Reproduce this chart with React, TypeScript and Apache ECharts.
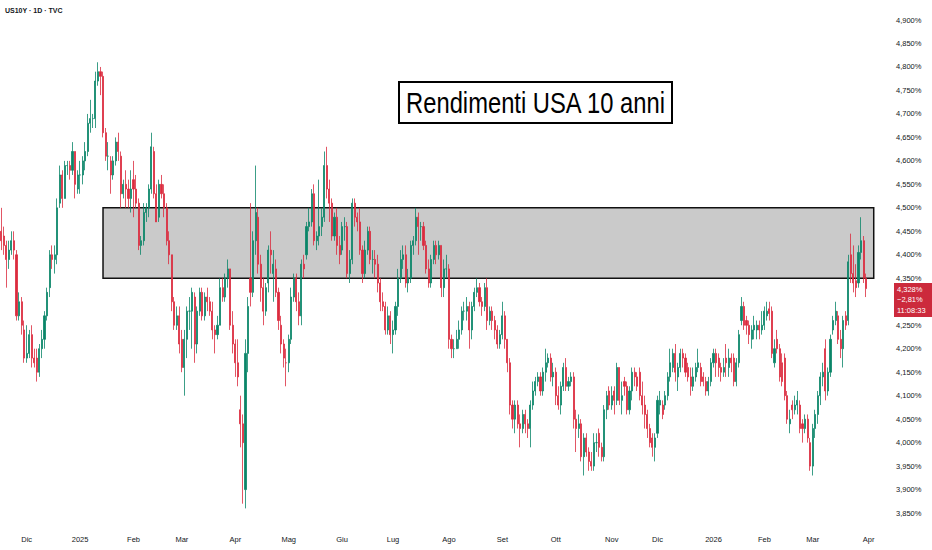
import React, { useEffect, useRef } from 'react';
import * as echarts from 'echarts';

// Each bar: [open, close, low, high]  (US10Y, %)
const nov2024 = [
  [4.45, 4.43, 4.41, 4.50], [4.44, 4.42, 4.40, 4.46], [4.42, 4.39, 4.33, 4.43], [4.39, 4.41, 4.37, 4.43],
  [4.41, 4.43, 4.40, 4.45], [4.43, 4.41, 4.39, 4.45], [4.40, 4.27, 4.26, 4.41], [4.27, 4.30, 4.26, 4.32],
  [4.30, 4.25, 4.23, 4.31], [4.24, 4.18, 4.17, 4.26],
];
const dec2024 = [
  [4.18, 4.19, 4.17, 4.25], [4.19, 4.23, 4.18, 4.24], [4.23, 4.18, 4.16, 4.25], [4.18, 4.17, 4.16, 4.20],
  [4.18, 4.15, 4.13, 4.20], [4.15, 4.20, 4.14, 4.21], [4.20, 4.22, 4.18, 4.24], [4.22, 4.27, 4.20, 4.28],
  [4.27, 4.32, 4.26, 4.33], [4.33, 4.40, 4.31, 4.41], [4.40, 4.39, 4.37, 4.42], [4.39, 4.40, 4.36, 4.42],
  [4.40, 4.50, 4.38, 4.52], [4.51, 4.57, 4.50, 4.59], [4.57, 4.52, 4.50, 4.58], [4.52, 4.59, 4.52, 4.60],
  [4.59, 4.59, 4.57, 4.60], [4.59, 4.58, 4.56, 4.60], [4.58, 4.62, 4.57, 4.64], [4.62, 4.55, 4.52, 4.62],
  [4.54, 4.57, 4.53, 4.58],
];
const jan2025 = [
  [4.57, 4.57, 4.53, 4.60], [4.57, 4.60, 4.55, 4.61], [4.60, 4.62, 4.58, 4.64], [4.62, 4.68, 4.61, 4.70],
  [4.68, 4.69, 4.66, 4.73], [4.69, 4.69, 4.67, 4.70], [4.69, 4.77, 4.67, 4.79], [4.77, 4.79, 4.76, 4.81],
  [4.79, 4.78, 4.74, 4.80], [4.78, 4.66, 4.65, 4.79], [4.66, 4.61, 4.60, 4.67], [4.61, 4.61, 4.58, 4.64],
  [4.60, 4.57, 4.53, 4.61], [4.57, 4.60, 4.56, 4.61], [4.60, 4.64, 4.59, 4.65], [4.64, 4.62, 4.60, 4.66],
  [4.61, 4.53, 4.50, 4.62], [4.53, 4.55, 4.52, 4.56], [4.55, 4.54, 4.50, 4.58], [4.54, 4.52, 4.50, 4.56],
  [4.52, 4.54, 4.49, 4.58],
];
const feb2025 = [
  [4.56, 4.54, 4.48, 4.60], [4.54, 4.51, 4.50, 4.57], [4.51, 4.42, 4.41, 4.52], [4.42, 4.43, 4.40, 4.44],
  [4.43, 4.49, 4.42, 4.51], [4.49, 4.50, 4.47, 4.51], [4.50, 4.54, 4.48, 4.55], [4.54, 4.63, 4.53, 4.66],
  [4.62, 4.53, 4.52, 4.63], [4.53, 4.47, 4.47, 4.55], [4.48, 4.55, 4.47, 4.56], [4.55, 4.53, 4.52, 4.57],
  [4.53, 4.50, 4.48, 4.55], [4.50, 4.43, 4.42, 4.51], [4.43, 4.40, 4.38, 4.45], [4.40, 4.30, 4.28, 4.40],
  [4.30, 4.25, 4.24, 4.31], [4.25, 4.27, 4.24, 4.29], [4.27, 4.21, 4.19, 4.29],
];
const mar2025 = [
  [4.22, 4.16, 4.15, 4.24], [4.16, 4.22, 4.10, 4.24], [4.22, 4.28, 4.18, 4.29], [4.28, 4.28, 4.24, 4.31],
  [4.28, 4.32, 4.20, 4.33], [4.31, 4.21, 4.17, 4.32], [4.21, 4.28, 4.19, 4.29], [4.28, 4.32, 4.27, 4.33],
  [4.32, 4.27, 4.26, 4.33], [4.27, 4.31, 4.26, 4.32], [4.31, 4.30, 4.28, 4.33], [4.30, 4.28, 4.27, 4.31],
  [4.28, 4.24, 4.22, 4.30], [4.24, 4.23, 4.19, 4.25], [4.23, 4.25, 4.22, 4.27], [4.25, 4.33, 4.25, 4.35],
  [4.33, 4.31, 4.30, 4.35], [4.31, 4.35, 4.30, 4.36], [4.35, 4.37, 4.33, 4.39], [4.37, 4.25, 4.24, 4.37],
  [4.25, 4.21, 4.19, 4.28],
];
const apr2025 = [
  [4.21, 4.17, 4.14, 4.22], [4.17, 4.14, 4.12, 4.22], [4.07, 4.04, 3.99, 4.10], [4.04, 4.00, 3.87, 4.06],
  [3.90, 4.19, 3.86, 4.22], [4.19, 4.29, 4.15, 4.31], [4.35, 4.32, 4.29, 4.51], [4.32, 4.43, 4.31, 4.45],
  [4.43, 4.49, 4.40, 4.59], [4.48, 4.38, 4.36, 4.50], [4.38, 4.33, 4.30, 4.40], [4.33, 4.28, 4.25, 4.35],
  [4.28, 4.33, 4.27, 4.34], [4.34, 4.41, 4.32, 4.42], [4.41, 4.40, 4.36, 4.45], [4.36, 4.38, 4.30, 4.41],
  [4.37, 4.32, 4.31, 4.39], [4.32, 4.26, 4.24, 4.33], [4.25, 4.21, 4.19, 4.27], [4.21, 4.18, 4.16, 4.22],
  [4.17, 4.17, 4.12, 4.20],
];
const may2025 = [
  [4.17, 4.22, 4.15, 4.23], [4.22, 4.31, 4.21, 4.33], [4.31, 4.35, 4.30, 4.36], [4.35, 4.30, 4.28, 4.36],
  [4.30, 4.27, 4.25, 4.32], [4.27, 4.38, 4.25, 4.39], [4.38, 4.37, 4.35, 4.40], [4.40, 4.46, 4.39, 4.47],
  [4.46, 4.47, 4.45, 4.50], [4.47, 4.53, 4.46, 4.54], [4.53, 4.43, 4.42, 4.55], [4.43, 4.44, 4.41, 4.45],
  [4.44, 4.46, 4.42, 4.56], [4.46, 4.48, 4.44, 4.50], [4.48, 4.59, 4.47, 4.62], [4.59, 4.54, 4.52, 4.63],
  [4.54, 4.51, 4.47, 4.56], [4.51, 4.44, 4.43, 4.52], [4.44, 4.48, 4.43, 4.49], [4.48, 4.42, 4.40, 4.50],
  [4.42, 4.40, 4.38, 4.44],
];
const jun2025 = [
  [4.41, 4.46, 4.40, 4.47], [4.46, 4.46, 4.43, 4.48], [4.46, 4.36, 4.35, 4.47], [4.36, 4.39, 4.34, 4.41],
  [4.39, 4.51, 4.38, 4.52], [4.51, 4.48, 4.46, 4.52], [4.48, 4.47, 4.45, 4.49], [4.47, 4.41, 4.40, 4.50],
  [4.41, 4.36, 4.34, 4.42], [4.36, 4.41, 4.35, 4.43], [4.41, 4.45, 4.40, 4.46], [4.45, 4.39, 4.38, 4.46],
  [4.39, 4.39, 4.36, 4.41], [4.39, 4.38, 4.35, 4.41], [4.38, 4.34, 4.32, 4.40], [4.34, 4.30, 4.28, 4.35],
  [4.30, 4.29, 4.28, 4.32], [4.29, 4.24, 4.23, 4.30], [4.24, 4.27, 4.23, 4.29], [4.27, 4.23, 4.21, 4.28],
];
const jul2025 = [
  [4.23, 4.24, 4.19, 4.26], [4.24, 4.29, 4.23, 4.30], [4.29, 4.35, 4.27, 4.37], [4.35, 4.39, 4.34, 4.41],
  [4.39, 4.40, 4.37, 4.42], [4.40, 4.34, 4.33, 4.42], [4.34, 4.35, 4.32, 4.37], [4.35, 4.42, 4.34, 4.43],
  [4.42, 4.43, 4.40, 4.44], [4.43, 4.48, 4.42, 4.50], [4.48, 4.46, 4.40, 4.49], [4.46, 4.46, 4.43, 4.47],
  [4.46, 4.42, 4.41, 4.47], [4.42, 4.37, 4.36, 4.43], [4.37, 4.34, 4.33, 4.39], [4.34, 4.39, 4.33, 4.40],
  [4.39, 4.42, 4.38, 4.43], [4.42, 4.40, 4.38, 4.43], [4.40, 4.42, 4.39, 4.43], [4.42, 4.33, 4.31, 4.42],
  [4.33, 4.37, 4.31, 4.39], [4.37, 4.37, 4.35, 4.40],
];
const aug2025 = [
  [4.37, 4.22, 4.20, 4.38], [4.22, 4.20, 4.18, 4.23], [4.20, 4.20, 4.18, 4.22], [4.20, 4.22, 4.20, 4.24],
  [4.22, 4.24, 4.20, 4.26], [4.24, 4.28, 4.23, 4.29], [4.28, 4.28, 4.26, 4.30], [4.28, 4.29, 4.26, 4.31],
  [4.29, 4.24, 4.20, 4.30], [4.24, 4.29, 4.22, 4.30], [4.29, 4.32, 4.28, 4.33], [4.32, 4.33, 4.31, 4.35],
  [4.33, 4.30, 4.29, 4.34], [4.30, 4.29, 4.27, 4.31], [4.29, 4.33, 4.28, 4.34], [4.33, 4.26, 4.24, 4.35],
  [4.26, 4.28, 4.25, 4.29], [4.28, 4.26, 4.24, 4.29], [4.26, 4.24, 4.22, 4.27], [4.24, 4.21, 4.20, 4.25],
  [4.21, 4.23, 4.20, 4.24],
];
const sep2025 = [
  [4.23, 4.27, 4.22, 4.30], [4.27, 4.22, 4.20, 4.28], [4.22, 4.17, 4.15, 4.22], [4.17, 4.08, 4.06, 4.18],
  [4.08, 4.05, 4.03, 4.09], [4.05, 4.08, 4.02, 4.09], [4.08, 4.04, 4.03, 4.09], [4.04, 4.03, 3.99, 4.06],
  [4.03, 4.06, 4.02, 4.07], [4.06, 4.04, 4.02, 4.07], [4.04, 4.03, 4.01, 4.05], [4.03, 4.08, 3.99, 4.09],
  [4.08, 4.11, 4.07, 4.13], [4.11, 4.13, 4.10, 4.14], [4.13, 4.14, 4.12, 4.15], [4.14, 4.11, 4.10, 4.15],
  [4.11, 4.15, 4.10, 4.16], [4.15, 4.17, 4.13, 4.20], [4.17, 4.18, 4.16, 4.19], [4.18, 4.14, 4.13, 4.19],
  [4.14, 4.15, 4.12, 4.17],
];
const oct2025 = [
  [4.15, 4.10, 4.08, 4.16], [4.10, 4.08, 4.07, 4.12], [4.08, 4.12, 4.06, 4.13], [4.12, 4.16, 4.11, 4.17],
  [4.16, 4.12, 4.11, 4.18], [4.12, 4.13, 4.11, 4.14], [4.13, 4.14, 4.12, 4.15], [4.14, 4.05, 4.03, 4.15],
  [4.05, 4.03, 3.98, 4.07], [4.03, 4.04, 4.01, 4.06], [4.04, 3.97, 3.96, 4.05], [3.97, 4.01, 3.93, 4.02],
  [4.01, 3.98, 3.97, 4.02], [3.98, 3.96, 3.94, 3.99], [3.96, 3.95, 3.94, 3.98], [3.95, 4.00, 3.94, 4.02],
  [4.00, 4.00, 3.98, 4.02], [4.02, 3.99, 3.97, 4.03], [3.99, 3.97, 3.96, 4.00], [3.97, 4.07, 3.96, 4.08],
  [4.07, 4.10, 4.05, 4.11], [4.11, 4.08, 4.07, 4.12],
];
const nov2025 = [
  [4.08, 4.10, 4.07, 4.12], [4.11, 4.09, 4.06, 4.12], [4.09, 4.16, 4.08, 4.17], [4.16, 4.09, 4.08, 4.16],
  [4.09, 4.10, 4.06, 4.13], [4.13, 4.12, 4.10, 4.14], [4.12, 4.07, 4.06, 4.13], [4.07, 4.11, 4.06, 4.12],
  [4.11, 4.15, 4.09, 4.16], [4.15, 4.14, 4.12, 4.16], [4.14, 4.12, 4.11, 4.15], [4.15, 4.10, 4.09, 4.16],
  [4.10, 4.08, 4.06, 4.13], [4.08, 4.06, 4.03, 4.10], [4.06, 4.03, 4.01, 4.07], [4.03, 4.00, 3.99, 4.04],
  [4.01, 3.99, 3.97, 4.02], [3.99, 4.01, 3.96, 4.02],
];
const dec2025 = [
  [4.02, 4.09, 4.01, 4.10], [4.08, 4.09, 4.06, 4.11], [4.08, 4.06, 4.05, 4.09], [4.08, 4.10, 4.07, 4.11],
  [4.10, 4.14, 4.09, 4.15], [4.14, 4.17, 4.13, 4.20], [4.16, 4.19, 4.15, 4.20], [4.19, 4.15, 4.13, 4.21],
  [4.14, 4.16, 4.11, 4.17], [4.16, 4.19, 4.15, 4.20], [4.19, 4.18, 4.16, 4.20], [4.18, 4.15, 4.14, 4.19],
  [4.16, 4.14, 4.13, 4.17], [4.14, 4.12, 4.10, 4.16], [4.12, 4.14, 4.11, 4.16], [4.14, 4.16, 4.13, 4.17],
  [4.16, 4.17, 4.15, 4.20], [4.16, 4.13, 4.12, 4.17], [4.14, 4.13, 4.12, 4.15], [4.13, 4.11, 4.10, 4.14],
  [4.11, 4.13, 4.10, 4.14], [4.13, 4.17, 4.12, 4.18],
];
const jan2026 = [
  [4.17, 4.19, 4.16, 4.20], [4.19, 4.17, 4.14, 4.20], [4.18, 4.16, 4.14, 4.19], [4.16, 4.15, 4.13, 4.17],
  [4.15, 4.16, 4.14, 4.18], [4.18, 4.17, 4.14, 4.21], [4.16, 4.18, 4.14, 4.20], [4.18, 4.17, 4.15, 4.19],
  [4.18, 4.13, 4.12, 4.19], [4.13, 4.17, 4.12, 4.18], [4.17, 4.23, 4.16, 4.24], [4.26, 4.29, 4.25, 4.31],
  [4.29, 4.25, 4.24, 4.30], [4.26, 4.25, 4.23, 4.27], [4.25, 4.23, 4.21, 4.26], [4.22, 4.24, 4.20, 4.25],
  [4.24, 4.25, 4.22, 4.27], [4.24, 4.25, 4.22, 4.26], [4.25, 4.24, 4.22, 4.26], [4.24, 4.25, 4.23, 4.28],
];
const feb2026 = [
  [4.25, 4.28, 4.24, 4.29], [4.27, 4.28, 4.26, 4.30], [4.285, 4.275, 4.26, 4.30], [4.28, 4.19, 4.18, 4.29],
  [4.17, 4.20, 4.16, 4.22], [4.22, 4.20, 4.19, 4.24], [4.20, 4.14, 4.13, 4.21], [4.17, 4.13, 4.12, 4.19],
  [4.18, 4.10, 4.09, 4.19], [4.10, 4.05, 4.04, 4.11], [4.04, 4.05, 4.02, 4.07], [4.08, 4.07, 4.05, 4.09],
  [4.07, 4.08, 4.06, 4.10], [4.08, 4.09, 4.06, 4.11], [4.08, 4.03, 4.02, 4.09], [4.04, 4.03, 4.00, 4.05],
  [4.03, 4.05, 4.02, 4.06], [4.05, 4.01, 4.00, 4.06], [4.00, 3.95, 3.94, 4.01],
];
const mar2026 = [
  [3.95, 4.03, 3.93, 4.04], [4.03, 4.06, 4.01, 4.07], [4.06, 4.10, 4.04, 4.11], [4.10, 4.14, 4.08, 4.15],
  [4.14, 4.15, 4.12, 4.17], [4.20, 4.11, 4.09, 4.22], [4.11, 4.15, 4.10, 4.16], [4.15, 4.22, 4.14, 4.23],
  [4.24, 4.26, 4.23, 4.27], [4.26, 4.28, 4.25, 4.30], [4.27, 4.22, 4.21, 4.28], [4.22, 4.20, 4.18, 4.24],
  [4.20, 4.26, 4.16, 4.27], [4.27, 4.25, 4.24, 4.28], [4.26, 4.385, 4.25, 4.40], [4.40, 4.36, 4.34, 4.445],
  [4.36, 4.34, 4.32, 4.42], [4.345, 4.33, 4.31, 4.38], [4.34, 4.405, 4.33, 4.42], [4.405, 4.43, 4.39, 4.48],
  [4.43, 4.35, 4.34, 4.44], [4.35, 4.328, 4.31, 4.36],
];
const apr2026: number[][] = [[], [], []]; // empty future slots on the time axis

const months = [
  { key: '2024-11', label: '', bars: nov2024 },
  { key: '2024-12', label: 'Dic', bars: dec2024 },
  { key: '2025-01', label: '2025', bars: jan2025 },
  { key: '2025-02', label: 'Feb', bars: feb2025 },
  { key: '2025-03', label: 'Mar', bars: mar2025 },
  { key: '2025-04', label: 'Apr', bars: apr2025 },
  { key: '2025-05', label: 'Mag', bars: may2025 },
  { key: '2025-06', label: 'Giu', bars: jun2025 },
  { key: '2025-07', label: 'Lug', bars: jul2025 },
  { key: '2025-08', label: 'Ago', bars: aug2025 },
  { key: '2025-09', label: 'Set', bars: sep2025 },
  { key: '2025-10', label: 'Ott', bars: oct2025 },
  { key: '2025-11', label: 'Nov', bars: nov2025 },
  { key: '2025-12', label: 'Dic', bars: dec2025 },
  { key: '2026-01', label: '2026', bars: jan2026 },
  { key: '2026-02', label: 'Feb', bars: feb2026 },
  { key: '2026-03', label: 'Mar', bars: mar2026 },
  { key: '2026-04', label: 'Apr', bars: apr2026 },
];

// 4,300% sits under the last-price badge in the reference, so it is not listed
const yTicks = [3.85, 3.9, 3.95, 4.0, 4.05, 4.1, 4.15, 4.2, 4.25, 4.35, 4.4, 4.45, 4.5, 4.55, 4.6, 4.65, 4.7, 4.75, 4.8, 4.85, 4.9];
const yMin = 3.8246;
const yMax = 4.9426;

const zone = { start: '2025-01-9', end: '2026-04-2', low: 4.35, high: 4.5 };

const titleText = 'Rendimenti USA 10 anni';
const symbolText = 'US10Y · 1D · TVC';
const lastPrice = ['4,328%', '−2,81%', '11:08:33'];

const UP = '#0a8568';
const DOWN = '#db2b3e';
const FONT = 'Liberation Sans, Arial, sans-serif';

export default function App() {
  const ref = useRef<HTMLDivElement>(null);

  useEffect(() => {
    if (!ref.current) return;
    const chart = echarts.init(ref.current, undefined, { renderer: 'svg' });

    const cats: string[] = [];
    const labelAt: Record<string, string> = {};
    const data: any[] = [];
    months.forEach((m) => {
      m.bars.forEach((b, i) => {
        const k = `${m.key}-${i}`;
        cats.push(k);
        if (i === 0 && m.label) labelAt[k] = m.label;
        data.push(b.length ? b : '-');
      });
    });

    chart.setOption({
      animation: false,
      backgroundColor: '#ffffff',
      grid: { left: 0, right: 57, top: 0, height: 525 },
      xAxis: {
        type: 'category',
        data: cats,
        boundaryGap: true,
        axisLine: { show: false },
        axisTick: { show: false },
        splitLine: { show: false },
        axisLabel: {
          interval: (i: number, v: string) => labelAt[v] !== undefined,
          formatter: (v: string) => labelAt[v] || '',
          fontSize: 7.5,
          fontFamily: FONT,
          color: '#131722',
          margin: 10,
        },
      },
      yAxis: {
        type: 'value',
        position: 'right',
        min: yMin,
        max: yMax,
        axisLine: { show: false },
        axisTick: { show: false },
        splitLine: { show: false },
        axisLabel: {
          customValues: yTicks,
          formatter: (v: number) => v.toFixed(3).replace('.', ',') + '%',
          fontSize: 7.5,
          fontFamily: FONT,
          color: '#131722',
          margin: 21,
          align: 'left',
        },
      },
      series: [
        {
          type: 'candlestick',
          data,
          barWidth: 1.6,
          itemStyle: {
            color: UP,
            color0: DOWN,
            borderColor: UP,
            borderColor0: DOWN,
            borderWidth: 0.8,
          },
          markArea: {
            silent: true,
            itemStyle: { color: 'rgba(150,150,150,0.5)', borderColor: '#111', borderWidth: 1.5 },
            data: [[{ xAxis: zone.start, yAxis: zone.high }, { xAxis: zone.end, yAxis: zone.low }]],
          },
        },
      ],
      graphic: [
        {
          type: 'text',
          left: 5,
          top: 7,
          z: 100,
          style: { text: symbolText, fontSize: 7, fontWeight: 'bold', fontFamily: FONT, fill: '#131722' },
        },
        {
          type: 'group',
          z: 100,
          children: [
            { type: 'rect', shape: { x: 399, y: 82, width: 273, height: 41 }, style: { fill: '#ffffff', stroke: '#000000', lineWidth: 2 } },
            {
              type: 'text',
              x: 535.5,
              y: 103,
              scaleX: 0.82,
              style: {
                text: titleText,
                fontSize: 29,
                fontFamily: FONT,
                fill: '#000000',
                align: 'center',
                verticalAlign: 'middle',
              },
            },
          ],
        },
        {
          type: 'group',
          z: 100,
          children: [
            { type: 'rect', shape: { x: 894, y: 283, width: 38, height: 34 }, style: { fill: '#cc2a3c' } },
            ...lastPrice.map((t, i) => ({
              type: 'text',
              x: 897,
              y: 289 + i * 10.5,
              style: { text: t, fontSize: 7.5, fontFamily: FONT, fill: '#ffffff', verticalAlign: 'middle' },
            })),
          ],
        },
      ],
    });

    return () => chart.dispose();
  }, []);

  return <div ref={ref} style={{ position: 'fixed', left: 0, top: 0, width: 932, height: 550, background: '#fff' }} />;
}
